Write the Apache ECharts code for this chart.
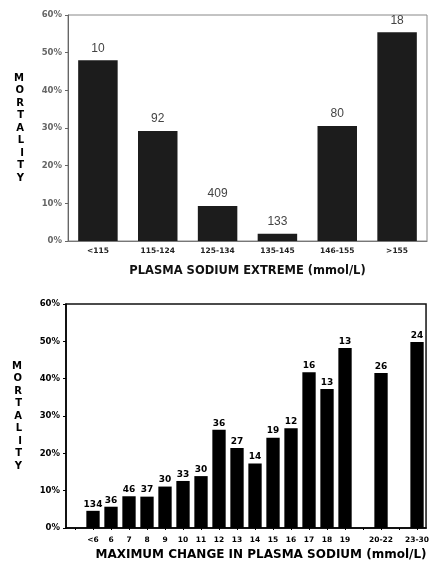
<!DOCTYPE html>
<html>
<head>
<meta charset="utf-8">
<script src="https://cdn.jsdelivr.net/npm/echarts@6/dist/echarts.min.js"></script>
<style>
  html, body { margin: 0; padding: 0; background: #fff; }
  #chart { width: 432px; height: 565px; }
</style>
</head>
<body>
<div id="chart"></div>
<script>
// top panel: mortality by plasma sodium extreme
const topCats = ['<115', '115-124', '125-134', '135-145', '146-155', '>155']
const topMortality = [48, 29.2, 9.3, 1.9, 30.5, 55.4]
const topN = [10, 92, 409, 133, 80, 18]

// bottom panel: mortality by maximum change in plasma sodium
const bottomCats = ['', '<6', '6', '7', '8', '9', '10', '11', '12', '13', '14', '15', '16', '17', '18', '19', '', '20-22', '', '23-30']
const bottomMortality = [null, 4.6, 5.7, 8.5, 8.4, 11.1, 12.6, 13.9, 26.3, 21.4, 17.3, 24.2, 26.7, 41.7, 37.2, 48.2, null, 41.5, null, 49.8]
const bottomN = [null, 134, 36, 46, 37, 30, 33, 30, 36, 27, 14, 19, 12, 16, 13, 13, null, 26, null, 24]

const yTicks = [0, 10, 20, 30, 40, 50, 60]
const yLabel = 'M\nO\nR\nT\nA\nL\nI\nT\nY'

const font = 'Liberation Sans'
const heavy = 'DejaVu Sans'
const chart = echarts.init(document.getElementById('chart'))

const yAxisBase = (idx, color, lineWidth) => ({
  gridIndex: idx,
  type: 'value',
  min: yTicks[0],
  max: yTicks[yTicks.length - 1],
  interval: 10,
  name: yLabel,
  nameLocation: 'middle',
  nameRotate: 0,
  nameGap: 44,
  nameTextStyle: { fontFamily: heavy, fontWeight: 'bold', fontSize: 10, lineHeight: 12.5, color: '#000' },
  axisLine: { show: true, lineStyle: { color: color, width: lineWidth } },
  axisTick: { show: true, length: 3, lineStyle: { color: color } },
  splitLine: { show: false },
  axisLabel: {
    formatter: '{value}%',
    fontFamily: heavy,
    fontWeight: 'bold',
    fontSize: 8.5,
    margin: 6,
    color: color,
  },
})

const option = {
  animation: false,
  grid: [
    { left: 68, right: 5, top: 15, height: 226, show: true, borderColor: '#888', borderWidth: 1 },
    { left: 66, right: 5, top: 304, height: 224, show: true, borderColor: '#111', borderWidth: 1.5 },
  ],
  xAxis: [
    {
      gridIndex: 0,
      type: 'category',
      data: topCats,
      name: 'PLASMA SODIUM EXTREME (mmol/L)',
      nameLocation: 'middle',
      nameGap: 24,
      nameTextStyle: { fontFamily: heavy, fontWeight: 'bold', fontSize: 11.5, color: '#111' },
      axisLine: { lineStyle: { color: '#777', width: 1.2 } },
      axisTick: { show: false },
      axisLabel: { fontFamily: heavy, fontWeight: 'bold', fontSize: 7.5, color: '#222', margin: 6 },
    },
    {
      gridIndex: 1,
      type: 'category',
      data: bottomCats,
      name: 'MAXIMUM CHANGE IN PLASMA SODIUM (mmol/L)',
      nameLocation: 'middle',
      nameGap: 21,
      nameTextStyle: { fontFamily: heavy, fontWeight: 'bold', fontSize: 12, color: '#000', padding: [0, 0, 0, 30] },
      axisLine: { lineStyle: { color: '#000', width: 1.5 } },
      axisTick: { show: true, alignWithLabel: true, length: 2, lineStyle: { color: '#000' } },
      axisLabel: { interval: 0, fontFamily: heavy, fontWeight: 'bold', fontSize: 7.5, color: '#000', margin: 8 },
    },
  ],
  yAxis: [
    yAxisBase(0, '#666', 1),
    yAxisBase(1, '#000', 1.5),
  ],
  series: [
    {
      type: 'bar',
      xAxisIndex: 0,
      yAxisIndex: 0,
      data: topMortality,
      barCategoryGap: '34%',
      itemStyle: { color: '#1c1c1c' },
      label: {
        show: true,
        position: 'top',
        distance: 6,
        fontFamily: font,
        fontSize: 12,
        color: '#444',
        formatter: (p) => topN[p.dataIndex],
      },
    },
    {
      type: 'bar',
      xAxisIndex: 1,
      yAxisIndex: 1,
      data: bottomMortality,
      barCategoryGap: '26%',
      itemStyle: { color: '#000' },
      label: {
        show: true,
        position: 'top',
        distance: 2,
        fontFamily: heavy,
        fontWeight: 'bold',
        fontSize: 9,
        color: '#000',
        formatter: (p) => bottomN[p.dataIndex] ?? '',
      },
    },
  ],
}

chart.setOption(option)
</script>
</body>
</html>
